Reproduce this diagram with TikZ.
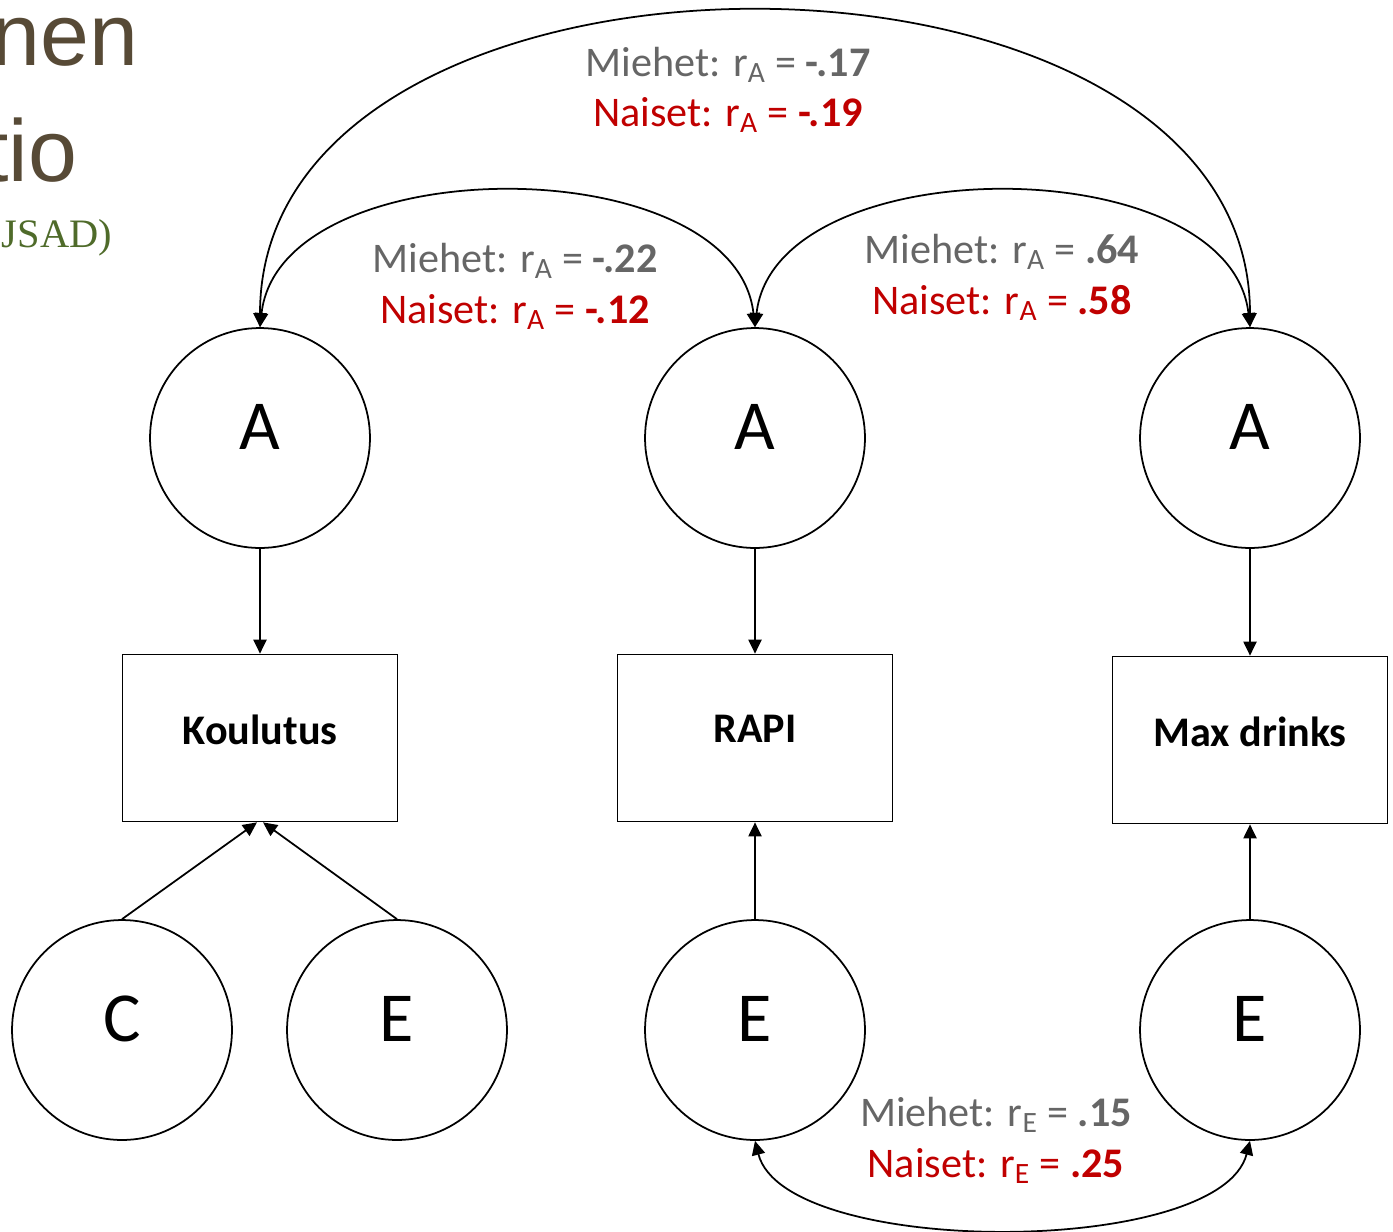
\documentclass[tikz,border=0pt]{standalone}
\usepackage{fontspec}
\setmainfont{Carlito}
\newfontfamily\slidesans{Liberation Sans}
\newfontfamily\slideserif{Liberation Serif}
\usetikzlibrary{arrows.meta}
\definecolor{miesgray}{HTML}{666666}
\definecolor{naisred}{HTML}{C00000}
\definecolor{slidebrown}{HTML}{574A36}
\definecolor{slidegreen}{HTML}{4F6B2A}

\begin{document}
\begin{tikzpicture}[x=0.02cm,y=-0.02cm,line width=1pt,
    latent/.style={draw,circle,minimum size=4.4cm,inner sep=0pt,text depth=13pt,
        font=\fontsize{40}{40}\selectfont},
    observed/.style={draw,rectangle,minimum width=5.5cm,minimum height=3.34cm,
        text depth=10pt,font=\fontsize{24}{28}\selectfont\bfseries},
    effect/.style={-{Triangle[length=8pt,width=7.5pt]}},
    corr/.style={{Triangle[length=8pt,width=7.5pt]}-{Triangle[length=8pt,width=7.5pt]}},
    men/.style={anchor=base,inner sep=0pt,text=miesgray,font=\fontsize{24}{28}\selectfont},
    women/.style={anchor=base,inner sep=0pt,text=naisred,font=\fontsize{24}{28}\selectfont}]
    \useasboundingbox (0,0) rectangle (1393,1231);

    % slide text behind the figure
    \node (slideA) [anchor=base east,inner sep=0pt,text=slidebrown,font=\slidesans\fontsize{50}{50}\selectfont] at (139,65) {nen};
    \node (slideB) [anchor=base east,inner sep=0pt,text=slidebrown,font=\slidesans\fontsize{50}{50}\selectfont] at (78,181) {tio};
    \node (slideC) [anchor=base west,inner sep=0pt,text=slidegreen,font=\slideserif\fontsize{23}{23}\selectfont] at (1,247) {JSAD)};

    % latent factors
    \node[latent] (aKoul) at (260,438)  {A};
    \node[latent] (aRapi) at (755,438)  {A};
    \node[latent] (aMax)  at (1250,438) {A};
    \node[latent] (cKoul) at (122,1030) {C};
    \node[latent] (eKoul) at (397,1030) {E};
    \node[latent] (eRapi) at (755,1030) {E};
    \node[latent] (eMax)  at (1250,1030) {E};

    % measured traits
    \node[observed] (koul) at (260,738)  {Koulutus};
    \node[observed] (rapi) at (755,738)  {RAPI};
    \node[observed] (max)  at (1250,740) {Max drinks};

    \draw[effect] (aKoul) -- (koul);
    \draw[effect] (aRapi) -- (rapi);
    \draw[effect] (aMax) -- (max);
    \draw[effect] (cKoul.north) -- ([xshift=-0.06cm]koul.south);
    \draw[effect] (eKoul.north) -- ([xshift=0.06cm]koul.south);
    \draw[effect] (eRapi) -- (rapi);
    \draw[effect] (eMax) -- (max);

    % correlations
    \draw[corr] (aKoul.north) .. controls +(0,-420) and +(0,-420) .. (aMax.north);
    \draw[corr] (aKoul.north) .. controls +(20,-180) and +(-20,-180) .. (aRapi.north);
    \draw[corr] (aRapi.north) .. controls +(20,-180) and +(-20,-180) .. (aMax.north);
    \draw[corr] (eRapi.south) .. controls +(30,117) and +(-30,117) .. (eMax.south);

    \node[men]   (mTop)   at (728,76)   {Miehet: r\textsubscript{A} = \textbf{-.17}};
    \node[women] (nTop)   at (728,126)  {Naiset: r\textsubscript{A} = \textbf{-.19}};
    \node[men]   (mLeft)  at (515,272)  {Miehet: r\textsubscript{A} = \textbf{-.22}};
    \node[women] (nLeft)  at (515,323)  {Naiset: r\textsubscript{A} = \textbf{-.12}};
    \node[men]   (mRight) at (1002,263) {Miehet: r\textsubscript{A} = \textbf{.64}};
    \node[women] (nRight) at (1002,314) {Naiset: r\textsubscript{A} = \textbf{.58}};
    \node[men]   (mBot)   at (996,1126) {Miehet: r\textsubscript{E} = \textbf{.15}};
    \node[women] (nBot)   at (996,1177) {Naiset: r\textsubscript{E} = \textbf{.25}};
\end{tikzpicture}
\end{document}
